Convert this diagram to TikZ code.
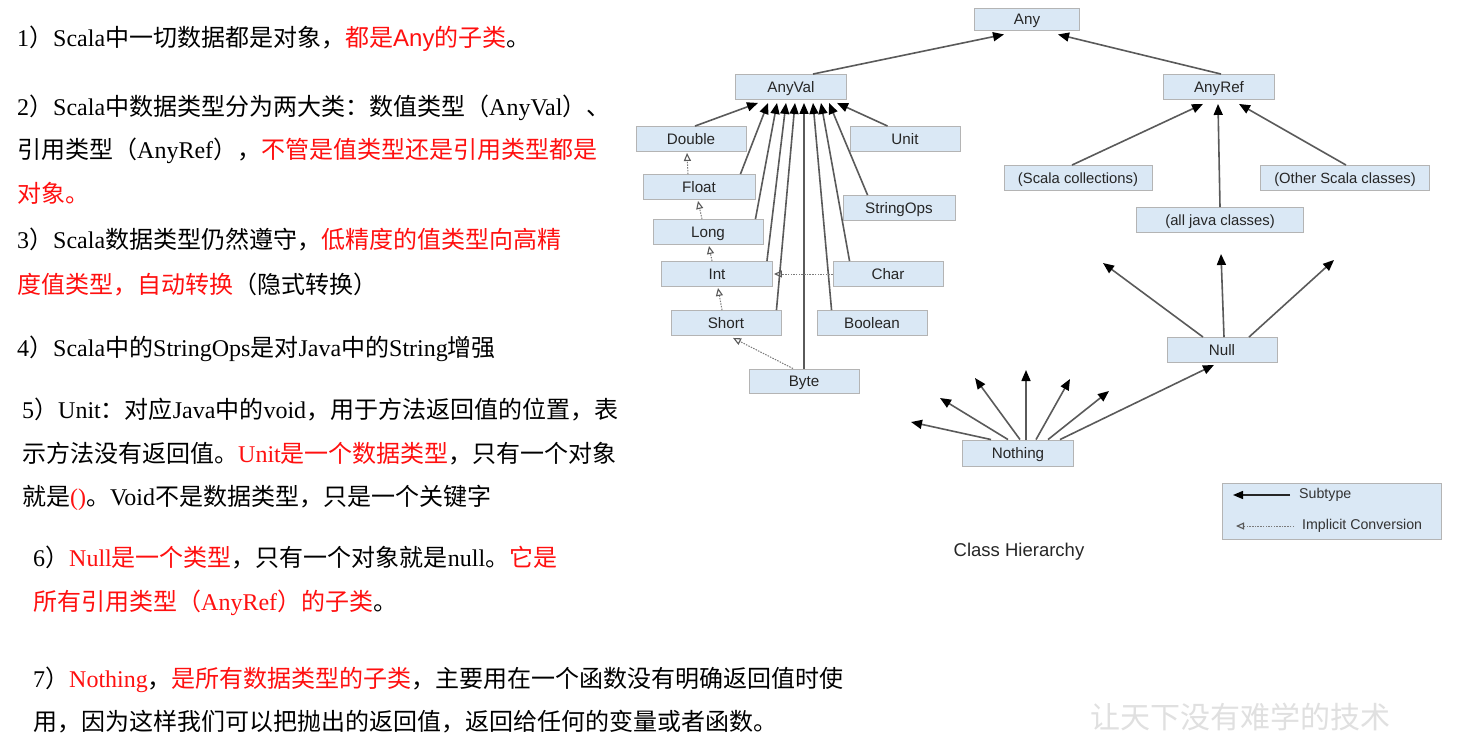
\documentclass[tikz,border=0pt]{standalone}
\usepackage{fontspec}
\setmainfont{Liberation Serif}
\newfontfamily\cjk{Noto Sans CJK SC}
\newfontfamily\arialf{Liberation Sans}
\usetikzlibrary{arrows.meta}
\definecolor{boxfill}{HTML}{DAE8F5}
\definecolor{boxline}{HTML}{B4B4B4}
\definecolor{edgec}{HTML}{5A5A5A}
\definecolor{wm}{HTML}{E0E0E0}
\definecolor{rd}{HTML}{FF1010}
\newcommand\lt[1]{{\rmfamily #1}}
\newcommand\rd[1]{\textcolor{rd}{#1}}
\tikzset{
  cls/.style={draw=boxline, fill=boxfill, line width=0.9pt, minimum width=110pt,
    minimum height=25pt, inner sep=0pt, text=black!85, text height=13pt, text depth=1.5pt,
    font=\arialf\fontsize{15.2}{15.2}\selectfont},
  sub/.style={draw=edgec, line width=1.6pt, -{Triangle[length=11pt,width=9pt,color=black]}},
  imp/.style={draw=edgec!80, line width=1pt, dash pattern=on 1.5pt off 1.2pt,
    -{Triangle[open,length=8pt,width=7pt,color=edgec,line width=1.1pt]}},
  txt/.style={anchor=base west, inner sep=0pt, font=\cjk\fontsize{24}{24}\selectfont},
  lgd/.style={anchor=west, inner sep=0pt, text=black!80, font=\arialf\fontsize{14.2}{14.2}\selectfont}
}
\begin{document}
\begin{tikzpicture}[x=1pt,y=-1pt]
\useasboundingbox[fill=white] (0,0) rectangle (1482,743);

% ---------- left text ----------
\node[txt] (t1) at (17,47) {\lt{1}）\lt{Scala}中一切数据都是对象，\rd{都是{\arialf Any}的子类}。};
\node[txt] (t2a) at (17,116) {\lt{2}）\lt{Scala}中数据类型分为两大类：数值类型（\lt{AnyVal}）、};
\node[txt] (t2b) at (17,159) {引用类型（\lt{AnyRef}），\rd{不管是值类型还是引用类型都是}};
\node[txt] (t2c) at (17,203) {\rd{对象。}};
\node[txt] (t3a) at (17,249) {\lt{3}）\lt{Scala}数据类型仍然遵守，\rd{低精度的值类型向高精}};
\node[txt] (t3b) at (17,293) {\rd{度值类型，自动转换}（隐式转换）};
\node[txt] (t4) at (17,356) {\lt{4}）\lt{Scala}中的\lt{StringOps}是对\lt{Java}中的\lt{String}增强};
\node[txt] (t5a) at (22,418) {\lt{5}）\lt{Unit}：对应\lt{Java}中的\lt{void}，用于方法返回值的位置，表};
\node[txt] (t5b) at (22,462) {示方法没有返回值。\rd{\lt{Unit}是一个数据类型}，只有一个对象};
\node[txt] (t5c) at (22,505) {就是\rd{\lt{()}}。\lt{Void}不是数据类型，只是一个关键字};
\node[txt] (t6a) at (33,566) {\lt{6}）\rd{\lt{Null}是一个类型}，只有一个对象就是\lt{null}。\rd{它是}};
\node[txt] (t6b) at (33,610) {\rd{所有引用类型（\lt{AnyRef}）的子类}。};
\node[txt] (t7a) at (33,687) {\lt{7}）\rd{\lt{Nothing}}，\rd{是所有数据类型的子类}，主要用在一个函数没有明确返回值时使};
\node[txt] (t7b) at (33,730) {用，因为这样我们可以把抛出的返回值，返回给任何的变量或者函数。};

% ---------- class boxes ----------
\node[cls, minimum width=105pt, minimum height=22pt] (Any) at (1027,19) {Any};
\node[cls, minimum width=111pt] (AnyVal) at (791,87) {AnyVal};
\node[cls, minimum width=111pt] (AnyRef) at (1219,87) {AnyRef};
\node[cls] (Double) at (691,139) {Double};
\node[cls] (Unit) at (905,139) {Unit};
\node[cls, minimum width=112pt] (Float) at (699,187) {Float};
\node[cls, minimum width=112pt] (StringOps) at (899,208) {StringOps};
\node[cls] (Long) at (708,232) {Long};
\node[cls, minimum width=111pt] (Int) at (717,274) {Int};
\node[cls] (Char) at (888,274) {Char};
\node[cls] (Short) at (726,323) {Short};
\node[cls] (Boolean) at (872,323) {Boolean};
\node[cls, minimum height=24pt] (Byte) at (804,381) {Byte};
\node[cls, minimum width=148pt, font=\arialf\fontsize{14.8}{14.8}\selectfont] (ScalaColl) at (1078,178) {(Scala collections)};
\node[cls, minimum width=169pt, font=\arialf\fontsize{14.8}{14.8}\selectfont] (OtherScala) at (1345,178) {(Other Scala classes)};
\node[cls, minimum width=167pt, font=\arialf\fontsize{14.8}{14.8}\selectfont] (AllJava) at (1220,220) {(all java classes)};
\node[cls] (Null) at (1222,350) {Null};
\node[cls, minimum width=111pt, minimum height=26pt] (Nothing) at (1018,453) {Nothing};

% ---------- subtype edges ----------
\draw[sub] ([xshift=22pt]AnyVal.north) -- ([xshift=-23pt,yshift=-4pt]Any.south);
\draw[sub] ([xshift=2pt]AnyRef.north) -- ([xshift=31pt,yshift=-4pt]Any.south);

\draw[sub] ([xshift=4pt]Double.north) -- ([xshift=-33pt,yshift=-3pt]AnyVal.south);
\draw[sub] ([xshift=-15pt]Float.north east) -- ([xshift=-23pt,yshift=-3pt]AnyVal.south);
\draw[sub] ([xshift=-8pt]Long.north east) -- ([xshift=-14pt,yshift=-3pt]AnyVal.south);
\draw[sub] ([xshift=-6pt]Int.north east) -- ([xshift=-5pt,yshift=-3pt]AnyVal.south);
\draw[sub] ([xshift=-5pt]Short.north east) -- ([xshift=4pt,yshift=-3pt]AnyVal.south);
\draw[sub] (Byte.north) -- ([xshift=13pt,yshift=-3pt]AnyVal.south);
\draw[sub] ([xshift=15pt]Boolean.north west) -- ([xshift=22pt,yshift=-3pt]AnyVal.south);
\draw[sub] ([xshift=17pt]Char.north west) -- ([xshift=30pt,yshift=-3pt]AnyVal.south);
\draw[sub] ([xshift=25pt]StringOps.north west) -- ([xshift=38pt,yshift=-3pt]AnyVal.south);
\draw[sub] ([xshift=38pt]Unit.north west) -- ([xshift=46pt,yshift=-3pt]AnyVal.south);

\draw[sub] ([xshift=-6pt]ScalaColl.north) -- ([xshift=-16pt,yshift=-4pt]AnyRef.south);
\draw[sub] (AllJava.north) -- ([xshift=-1pt,yshift=-4pt]AnyRef.south);
\draw[sub] ([xshift=1pt]OtherScala.north) -- ([xshift=20pt,yshift=-4pt]AnyRef.south);

% Null free arrows
\coordinate (n1) at (1103,263);
\coordinate (n2) at (1221,254);
\coordinate (n3) at (1334,260);
\draw[sub] ([xshift=-19pt]Null.north) -- (n1);
\draw[sub] ([xshift=2pt]Null.north) -- (n2);
\draw[sub] ([xshift=27pt]Null.north) -- (n3);

% Nothing free arrows
\coordinate (m1) at (911,422);
\coordinate (m2) at (940,398);
\coordinate (m3) at (975,378);
\coordinate (m4) at (1026,370);
\coordinate (m5) at (1070,379);
\coordinate (m6) at (1109,391);
\draw[sub] ([xshift=-27pt]Nothing.north) -- (m1);
\draw[sub] ([xshift=-10pt]Nothing.north) -- (m2);
\draw[sub] ([xshift=2pt]Nothing.north) -- (m3);
\draw[sub] ([xshift=8pt]Nothing.north) -- (m4);
\draw[sub] ([xshift=18pt]Nothing.north) -- (m5);
\draw[sub] ([xshift=30pt]Nothing.north) -- (m6);
\draw[sub] ([xshift=42pt]Nothing.north) -- ([xshift=-8pt,yshift=-2pt]Null.south);

% ---------- implicit conversions ----------
\draw[imp] ([xshift=-11pt]Float.north) -- ([xshift=-4pt,yshift=-1pt]Double.south);
\draw[imp] ([xshift=-6pt]Long.north) -- ([xshift=-1pt,yshift=-1pt]Float.south);
\draw[imp] ([xshift=-5pt]Int.north) -- ([xshift=1pt,yshift=-1pt]Long.south);
\draw[imp] ([xshift=-4pt]Short.north) -- ([xshift=1pt,yshift=-1pt]Int.south);
\draw[imp] (Char.west) -- ([xshift=1pt]Int.east);
\draw[imp] ([xshift=-11pt]Byte.north) -- ([xshift=7pt,yshift=-2pt]Short.south);

% ---------- legend ----------
\node[draw=boxline, fill=boxfill, line width=0.9pt, minimum width=219pt, minimum height=56pt, inner sep=0pt] (legend) at (1331.5,511) {};
\coordinate (ls1) at (1290,495);
\coordinate (ls2) at (1233,495);
\coordinate (li1) at (1294,526);
\coordinate (li2) at (1236,526);
\draw[draw=black!85, line width=1.4pt, -{Triangle[length=10pt,width=8pt,color=black]}] (ls1) -- (ls2);
\draw[imp] (li1) -- (li2);
\node[lgd] (lsub) at (1299,495) {Subtype};
\node[lgd] (limp) at (1302,526) {Implicit Conversion};

\node[inner sep=0pt, text=black!85, font=\arialf\fontsize{18.5}{18.5}\selectfont] (title) at (1019,552) {Class Hierarchy};

% ---------- watermark ----------
\node[anchor=base west, inner sep=0pt, text=wm, font=\cjk\fontsize{30}{30}\selectfont] (wmark) at (1090,728) {让天下没有难学的技术};
\end{tikzpicture}
\end{document}
